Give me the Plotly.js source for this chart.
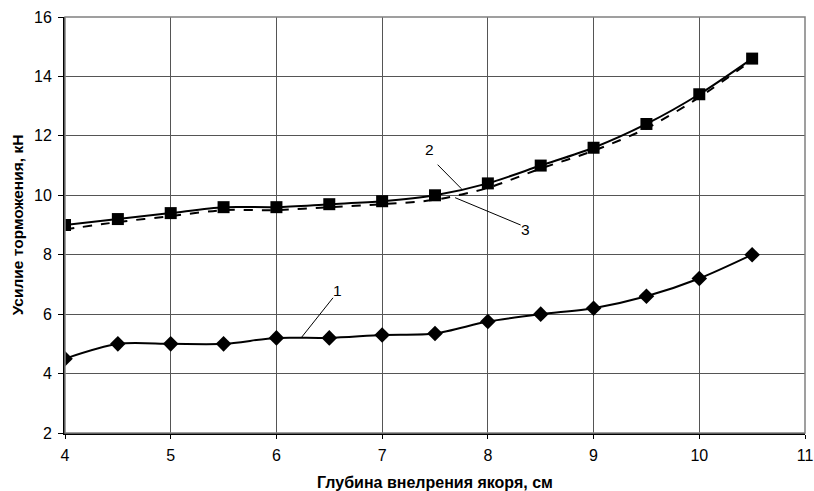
<!DOCTYPE html>
<html><head><meta charset="utf-8">
<script src="https://cdn.plot.ly/plotly-3.0.1.min.js"></script>
<style>html,body{margin:0;padding:0;background:#fff;}#chart{width:814px;height:491px;}</style>
</head><body><div id="chart"></div>
<script>
const depth = [4, 4.5, 5, 5.5, 6, 6.5, 7, 7.5, 8, 8.5, 9, 9.5, 10, 10.5];
const force1 = [4.5, 5.0, 5.0, 5.0, 5.2, 5.2, 5.3, 5.35, 5.75, 6.0, 6.2, 6.6, 7.2, 8.0];
const force2 = [9.0, 9.2, 9.4, 9.6, 9.6, 9.7, 9.8, 10.0, 10.4, 11.0, 11.6, 12.4, 13.4, 14.6];
const force3 = [8.85, 9.1, 9.3, 9.5, 9.5, 9.6, 9.7, 9.85, 10.25, 10.9, 11.5, 12.25, 13.3, 14.55];
const xTicks = [4, 5, 6, 7, 8, 9, 10, 11];
const yTicks = [2, 4, 6, 8, 10, 12, 14, 16];
const labelText = ["1", "2", "3"];
const labelX = [6.58, 7.45, 8.36];
const labelY = [6.78, 11.55, 8.86];
const leaderX0 = [6.535, 7.525, 7.69];
const leaderY0 = [6.55, 11.03, 9.92];
const leaderX1 = [6.24, 7.75, 8.31];
const leaderY1 = [5.23, 10.22, 9.0];
const xTitle = "Глубина внелрения якоря, см";
const yTitle = "Усилие торможения, кН";

const traces = [
  {x: depth, y: force3, mode: 'lines', line: {color: '#000', width: 2, dash: 'dash', shape: 'spline', smoothing: 0.8}, hoverinfo: 'skip'},
  {x: depth, y: force2, mode: 'lines+markers', line: {color: '#000', width: 2, shape: 'spline', smoothing: 0.8}, marker: {symbol: 'square', size: 12, color: '#000'}},
  {x: depth, y: force1, mode: 'lines+markers', line: {color: '#000', width: 2, shape: 'spline', smoothing: 0.8}, marker: {symbol: 'diamond', size: 12, color: '#000'}}
];

const annotations = labelText.map((t, i) => ({
  x: labelX[i], y: labelY[i], xref: 'x', yref: 'y', text: t, showarrow: false,
  font: {family: 'Liberation Sans, Arial, sans-serif', size: 15.5, color: '#000'}
}));
const shapes = labelText.map((t, i) => ({
  type: 'line', xref: 'x', yref: 'y', x0: leaderX0[i], y0: leaderY0[i], x1: leaderX1[i], y1: leaderY1[i],
  line: {color: '#000', width: 1}
}));
shapes.push({type: 'rect', xref: 'paper', yref: 'paper', x0: 0, y0: 0, x1: 1, y1: 1, line: {color: '#808080', width: 1.5}, layer: 'above'});

const layout = {
  width: 814, height: 491,
  margin: {l: 65, r: 9, t: 17, b: 58},
  paper_bgcolor: '#fff', plot_bgcolor: '#fff',
  showlegend: false,
  font: {family: 'Liberation Sans, Arial, sans-serif', size: 16, color: '#000'},
  xaxis: {
    range: [4, 11], tickvals: xTicks, ticktext: xTicks.map(String),
    showgrid: true, gridcolor: '#555', gridwidth: 1,
    zeroline: false, showline: true, linecolor: '#000', linewidth: 2,
    ticks: 'outside', ticklen: 4, tickcolor: '#000', tickfont: {size: 16},
    ticklabelstandoff: 3, ticklabeloverflow: 'allow',
    title: {text: xTitle, font: {size: 16, weight: 'bold'}, standoff: 15}
  },
  yaxis: {
    range: [2, 16], tickvals: yTicks, ticktext: yTicks.map(String),
    showgrid: true, gridcolor: '#555', gridwidth: 1,
    zeroline: false, showline: true, linecolor: '#000', linewidth: 2,
    ticks: 'outside', ticklen: 5, tickcolor: '#000', tickfont: {size: 16},
    ticklabelstandoff: 3,
    title: {text: yTitle, font: {size: 15.5, weight: 'bold'}, standoff: 7}
  },
  annotations: annotations,
  shapes: shapes
};
Plotly.newPlot('chart', traces, layout, {staticPlot: true});
</script></body></html>
